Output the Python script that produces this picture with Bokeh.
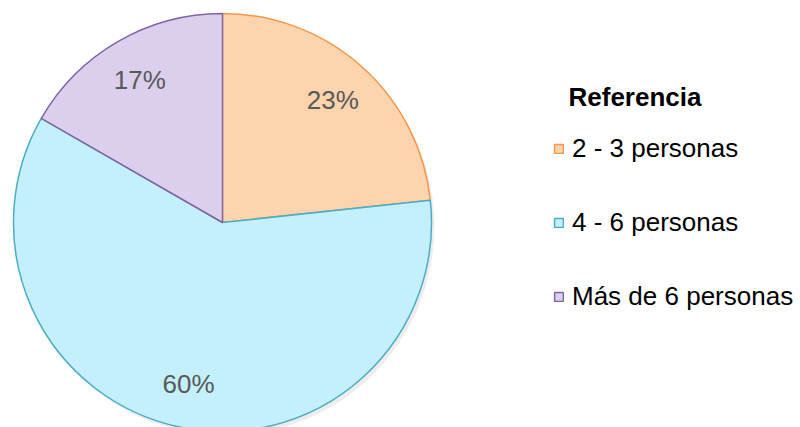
import math
from bokeh.plotting import figure
from bokeh.models import ColumnDataSource, Legend, LegendItem, Label
from bokeh.core.properties import value
from bokeh.embed import file_html
from bokeh.resources import INLINE

categories = ["2 - 3 personas", "4 - 6 personas", "Más de 6 personas"]
shares = [23.3, 60.0, 16.7]
labels = ["23%", "60%", "17%"]
fills = ["#FED4AE", "#C4F0FD", "#DCCFEE"]
lines = ["#F79646", "#4BACC6", "#8064A2"]

W, H = 800, 427
cx, cy, R = 222, H - 222, 209

total = sum(shares)
starts, ends, lx, ly = [], [], [], []
a = math.pi / 2
for s in shares:
    sweep = s / total * 2 * math.pi
    end = a - sweep
    starts.append(end)
    ends.append(a)
    mid = (a + end) / 2
    lx.append(cx + 0.79 * R * math.cos(mid))
    ly.append(cy + 0.79 * R * math.sin(mid))
    a = end

src = ColumnDataSource(dict(cat=categories, start=starts, end=ends, fill=fills,
                            line=lines, lx=lx, ly=ly, lab=labels))

p = figure(width=W, height=H, x_range=(0, W), y_range=(0, H), output_backend="svg",
           toolbar_location=None, min_border=0, outline_line_color=None)
p.axis.visible = False
p.grid.visible = False
p.background_fill_color = "white"

# faint shadow
p.circle(x=[cx + 3], y=[cy - 4], radius=R, fill_color="#000000", fill_alpha=0.07,
         line_color=None)

renderers = []
for i in range(len(categories)):
    r = p.wedge(x=cx, y=cy, radius=R, start_angle=starts[i], end_angle=ends[i],
                fill_color=fills[i], line_color=lines[i], line_width=1.5)
    renderers.append(r)

p.text(x="lx", y="ly", text="lab", source=src, text_align="center", text_baseline="middle",
       text_font=value("Liberation Sans"), text_font_size="26px", text_color="#595959")

legend = Legend(items=[LegendItem(label=categories[i], renderers=[renderers[i]]) for i in range(3)],
                location=(553, 115), orientation="vertical", padding=0, spacing=43,
                glyph_width=11, glyph_height=11, label_standoff=8,
                label_text_font="Liberation Sans", label_text_font_size="26px",
                label_text_color="#000000", border_line_color=None,
                background_fill_alpha=0)
p.add_layout(legend)

p.add_layout(Label(x=568, y=H - 96, text="Referencia", text_font="Liberation Sans",
                   text_font_size="26px", text_font_style="bold", text_color="#000000",
                   text_baseline="middle"))

open("out.html", "w").write(file_html(p, INLINE))
